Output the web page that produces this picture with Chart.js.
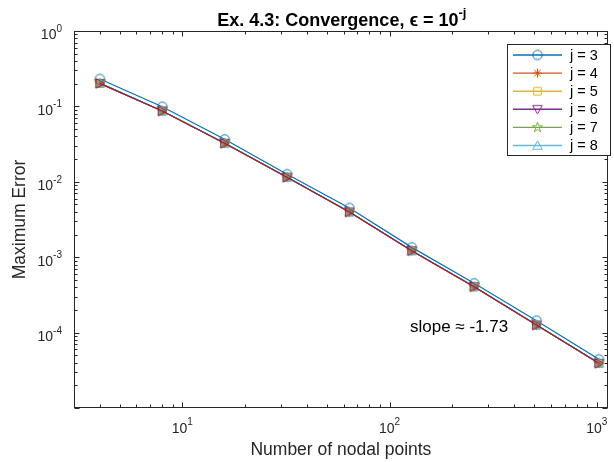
<!DOCTYPE html>
<html>
<head>
<meta charset="utf-8">
<script src="https://cdn.jsdelivr.net/npm/chart.js@4"></script>
<style>
  html, body { margin: 0; padding: 0; background: #fff; }
  canvas { display: block; }
</style>
</head>
<body>
<canvas id="convChart" width="614" height="462"></canvas>
<script>
// data
const nodalPoints = [4, 8, 16, 32, 64, 128, 256, 512, 1024];
const errJ3 = [0.231, 0.099, 0.0366, 0.0126, 0.0045, 0.00135, 0.000451, 0.000144, 0.0000442];
const errJ4 = [0.202, 0.0869, 0.0324, 0.0115, 0.00398, 0.00122, 0.000406, 0.000126, 0.0000392];
const errJ5 = [0.202, 0.0869, 0.0324, 0.0115, 0.00398, 0.00122, 0.000406, 0.000126, 0.0000392];
const errJ6 = [0.202, 0.0869, 0.0324, 0.0115, 0.00398, 0.00122, 0.000406, 0.000126, 0.0000392];
const errJ7 = [0.202, 0.0869, 0.0324, 0.0115, 0.00398, 0.00122, 0.000406, 0.000126, 0.0000392];
const errJ8 = [0.202, 0.0869, 0.0324, 0.0115, 0.00398, 0.00122, 0.000406, 0.000126, 0.0000392];
// one more curve is drawn on top (dark red) but has no legend entry
const errExtra = [0.202, 0.0869, 0.0324, 0.0115, 0.00398, 0.00122, 0.000406, 0.000126, 0.0000392];

const seriesLabels = ['j = 3', 'j = 4', 'j = 5', 'j = 6', 'j = 7', 'j = 8', ''];
const seriesColors = ['#0072BD', '#D95319', '#EDB120', '#7E2F8E', '#77AC30', '#4DBEEE', '#A2142F'];
const seriesMarkers = ['circle', 'asterisk', 'square', 'triDown', 'pentagram', 'triUp', 'triRight'];

const xTickExps = [1, 2, 3];
const yTickExps = [0, -1, -2, -3, -4];
const xRange = [3, 1130];
const yRange = [1e-5, 1];

const titleMain = 'Ex. 4.3: Convergence, \u03F5 = 10';
const titleSup = '-j';
const xTitle = 'Number of nodal points';
const yTitle = 'Maximum Error';
const slopeText = 'slope \u2248 -1.73';

const FONT = '"Liberation Sans", Arial, Helvetica, "DejaVu Sans", sans-serif';
const INK = '#262626';

function makeMarker(kind, color) {
    const c = document.createElement('canvas');
    c.width = 15;
    c.height = 15;
    const g = c.getContext('2d');
    g.strokeStyle = color;
    g.lineWidth = 1;
    g.translate(7.5, 7.5);
    g.beginPath();
    if (kind === 'circle') {
        g.arc(0, 0, 4.7, 0, Math.PI * 2);
    } else if (kind === 'asterisk') {
        for (let k = 0; k < 4; k++) {
            const a = k * Math.PI / 4;
            g.moveTo(-4.5 * Math.cos(a), -4.5 * Math.sin(a));
            g.lineTo(4.5 * Math.cos(a), 4.5 * Math.sin(a));
        }
    } else if (kind === 'square') {
        g.rect(-3.8, -3.8, 7.6, 7.6);
    } else if (kind === 'triDown') {
        g.moveTo(0, 4.6); g.lineTo(-4.8, -3.8); g.lineTo(4.8, -3.8); g.closePath();
    } else if (kind === 'triUp') {
        g.moveTo(0, -4.6); g.lineTo(-4.8, 3.8); g.lineTo(4.8, 3.8); g.closePath();
    } else if (kind === 'triRight') {
        g.moveTo(4.6, 0); g.lineTo(-3.8, -4.8); g.lineTo(-3.8, 4.8); g.closePath();
    } else if (kind === 'pentagram') {
        for (let k = 0; k < 10; k++) {
            const r = k % 2 === 0 ? 5.2 : 2.1;
            const a = -Math.PI / 2 + k * Math.PI / 5;
            const px = r * Math.cos(a), py = r * Math.sin(a);
            if (k === 0) g.moveTo(px, py); else g.lineTo(px, py);
        }
        g.closePath();
    }
    g.stroke();
    return c;
}

const markerImages = seriesMarkers.map((m, i) => makeMarker(m, seriesColors[i]));
const allSeries = [errJ3, errJ4, errJ5, errJ6, errJ7, errJ8, errExtra];

const datasets = allSeries.map((vals, i) => ({
    label: seriesLabels[i],
    data: nodalPoints.map((n, k) => ({ x: n, y: vals[k] })),
    borderColor: seriesColors[i],
    backgroundColor: 'rgba(0,0,0,0)',
    borderWidth: 1.2,
    fill: false,
    pointStyle: markerImages[i],
    pointRadius: 5,
    tension: 0,
    order: allSeries.length - i  // later series on top, like MATLAB
}));

// text with a raised exponent, e.g. 10^-3
function drawPower(ctx, base, sup, x, y, align, baseSize, supSize, bold) {
    const w = bold ? 'bold ' : '';
    ctx.font = w + baseSize + 'px ' + FONT;
    const bw = ctx.measureText(base).width;
    ctx.font = w + supSize + 'px ' + FONT;
    const sw = ctx.measureText(sup).width;
    const total = bw + sw;
    let left = x;
    if (align === 'right') left = x - total;
    if (align === 'center') left = x - total / 2;
    ctx.textAlign = 'left';
    ctx.textBaseline = 'middle';
    ctx.font = w + baseSize + 'px ' + FONT;
    ctx.fillText(base, left, y);
    ctx.font = w + supSize + 'px ' + FONT;
    ctx.fillText(sup, left + bw, y - baseSize * 0.45);
}

const matlabAxes = {
    id: 'matlabAxes',
    afterDatasetsDraw(chart) {
        const ctx = chart.ctx;
        const area = chart.chartArea;
        const xs = chart.scales.x;
        const ys = chart.scales.y;
        ctx.save();
        ctx.strokeStyle = INK;
        ctx.lineWidth = 1;

        // box
        const L = Math.round(area.left) + 0.5, R = Math.round(area.right) - 0.5;
        const T = Math.round(area.top) + 0.5, B = Math.round(area.bottom) - 0.5;
        ctx.strokeRect(L, T, R - L, B - T);

        // inward ticks, major and minor
        ctx.beginPath();
        for (let d = 0; d <= 3; d++) {
            for (let m = 1; m <= 9; m++) {
                const v = m * Math.pow(10, d);
                if (v < xRange[0] || v > xRange[1]) continue;
                const px = Math.round(xs.getPixelForValue(v)) + 0.5;
                const len = m === 1 ? 5 : 3;
                ctx.moveTo(px, B); ctx.lineTo(px, B - len);
                ctx.moveTo(px, T); ctx.lineTo(px, T + len);
            }
        }
        for (let d = -5; d <= 0; d++) {
            for (let m = 1; m <= 9; m++) {
                const v = m * Math.pow(10, d);
                if (v < yRange[0] || v > yRange[1]) continue;
                const py = Math.round(ys.getPixelForValue(v)) + 0.5;
                const len = m === 1 ? 5 : 3;
                ctx.moveTo(L, py); ctx.lineTo(L + len, py);
                ctx.moveTo(R, py); ctx.lineTo(R - len, py);
            }
        }
        ctx.stroke();

        // tick labels
        ctx.fillStyle = INK;
        xTickExps.forEach(e => {
            const px = xs.getPixelForValue(Math.pow(10, e));
            drawPower(ctx, '10', String(e), px, area.bottom + 21, 'center', 14, 10, false);
        });
        yTickExps.forEach(e => {
            const py = ys.getPixelForValue(Math.pow(10, e));
            drawPower(ctx, '10', String(e), area.left - 12, py + 4.5, 'right', 14, 10, false);
        });

        // axis titles
        ctx.font = '17.5px ' + FONT;
        ctx.textAlign = 'center';
        ctx.textBaseline = 'middle';
        ctx.fillText(xTitle, (area.left + area.right) / 2, 450);
        ctx.save();
        ctx.translate(20, (area.top + area.bottom) / 2);
        ctx.rotate(-Math.PI / 2);
        ctx.fillText(yTitle, 0, 0);
        ctx.restore();

        // title
        ctx.fillStyle = '#000';
        drawPower(ctx, titleMain, titleSup, (area.left + area.right) / 2 + 1, 21.5, 'center', 18, 13, true);

        // slope annotation
        ctx.fillStyle = '#000';
        ctx.font = '17px ' + FONT;
        ctx.textAlign = 'left';
        ctx.textBaseline = 'middle';
        ctx.fillText(slopeText, 410, 327);

        // legend
        const bx = 507.5, by = 44.5, bw = 103, bh = 111;
        ctx.fillStyle = '#fff';
        ctx.fillRect(bx, by, bw, bh);
        ctx.strokeStyle = INK;
        ctx.lineWidth = 1;
        ctx.strokeRect(bx, by, bw, bh);
        ctx.font = '14.5px ' + FONT;
        for (let i = 0; i < 6; i++) {
            const cy = 55 + i * 18.1;
            ctx.strokeStyle = seriesColors[i];
            ctx.lineWidth = 1.4;
            ctx.beginPath();
            ctx.moveTo(513, cy);
            ctx.lineTo(562, cy);
            ctx.stroke();
            ctx.drawImage(markerImages[i], 537.5 - 7.5, cy - 7.5);
            ctx.fillStyle = '#000';
            ctx.fillText(seriesLabels[i], 570, cy + 0.5);
        }
        ctx.restore();
    }
};

new Chart(document.getElementById('convChart'), {
    type: 'line',
    data: { datasets: datasets },
    options: {
        responsive: false,
        animation: false,
        layout: { padding: { top: 31, right: 1, left: 0, bottom: 0 } },
        plugins: {
            legend: { display: false },
            tooltip: { enabled: false },
            title: { display: false }
        },
        scales: {
            x: {
                type: 'logarithmic',
                min: xRange[0],
                max: xRange[1],
                grid: { display: false },
                border: { display: false },
                ticks: { display: false },
                afterFit(scale) { scale.height = 54; }
            },
            y: {
                type: 'logarithmic',
                min: yRange[0],
                max: yRange[1],
                grid: { display: false },
                border: { display: false },
                ticks: { display: false },
                afterFit(scale) { scale.width = 74; }
            }
        }
    },
    plugins: [matlabAxes]
});
</script>
</body>
</html>
